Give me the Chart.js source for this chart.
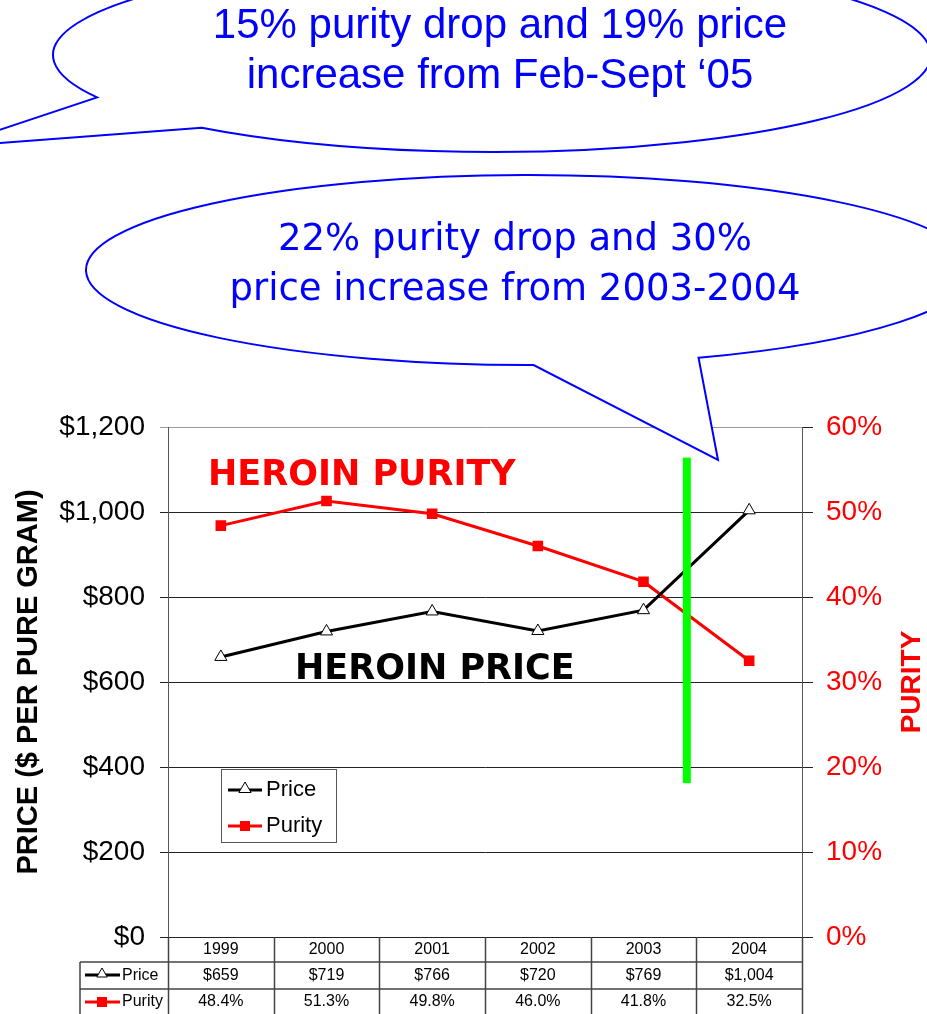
<!DOCTYPE html>
<html>
<head>
<meta charset="utf-8">
<script src="https://cdn.jsdelivr.net/npm/chart.js@4.4.1/dist/chart.umd.min.js"></script>
<style>
body { margin: 0; background: #fff; }
canvas { display: block; }
</style>
</head>
<body>
<canvas id="heroin" width="927" height="1014"></canvas>
<script>
// data
const years = ['1999', '2000', '2001', '2002', '2003', '2004'];
const price = [659, 719, 766, 720, 769, 1004];
const purity = [48.4, 51.3, 49.8, 46.0, 41.8, 32.5];
const priceLabels = ['$659', '$719', '$766', '$720', '$769', '$1,004'];
const purityLabels = ['48.4%', '51.3%', '49.8%', '46.0%', '41.8%', '32.5%'];
const priceMax = 1200, priceStep = 200;
const purityMax = 60, purityStep = 10;

const SANS = '"Liberation Sans", Arial, sans-serif';
const TAHOMA = '"DejaVu Sans", Verdana, sans-serif';

// speech bubble outline: ellipse with a gap (a1 -> a2, degrees) closed by a tail
function bubble(ctx, cx, cy, rx, ry, a1, a2, tip) {
  const r = Math.PI / 180;
  ctx.save();
  ctx.beginPath();
  ctx.ellipse(cx, cy, rx, ry, 0, a2 * r, (a1 + 360) * r, false);
  ctx.lineTo(tip[0], tip[1]);
  ctx.closePath();
  ctx.fillStyle = '#fff';
  ctx.fill();
  ctx.strokeStyle = '#0000ff';
  ctx.lineWidth = 2;
  ctx.stroke();
  ctx.restore();
}

function tri(ctx, x, y, r) {
  ctx.save();
  ctx.beginPath();
  ctx.moveTo(x, y - r);
  ctx.lineTo(x + r * 0.87, y + r * 0.5);
  ctx.lineTo(x - r * 0.87, y + r * 0.5);
  ctx.closePath();
  ctx.fillStyle = '#fff';
  ctx.fill();
  ctx.strokeStyle = '#000';
  ctx.lineWidth = 1;
  ctx.stroke();
  ctx.restore();
}

function key(ctx, x0, x1, y, color) {
  ctx.save();
  ctx.lineWidth = 3;
  ctx.strokeStyle = color;
  ctx.beginPath(); ctx.moveTo(x0, y); ctx.lineTo(x1, y); ctx.stroke();
  ctx.restore();
}

const overlay = {
  id: 'overlay',
  afterDraw(chart) {
    const ctx = chart.ctx;
    const xs = chart.scales.x, yp = chart.scales.y;
    const a = chart.chartArea;
    const band = xs.getPixelForValue(1) - xs.getPixelForValue(0);

    // green marker between 2003 and 2004
    const gx = xs.getPixelForValue(4) + 0.41 * band;
    ctx.save();
    ctx.fillStyle = '#00ff00';
    ctx.fillRect(gx - 4, yp.getPixelForValue(1128), 8, yp.getPixelForValue(362) - yp.getPixelForValue(1128));

    // series labels
    ctx.textBaseline = 'middle';
    ctx.textAlign = 'left';
    ctx.font = 'bold 35px ' + TAHOMA;
    ctx.fillStyle = '#ff0000';
    ctx.fillText('HEROIN PURITY', a.left + 40, 476);
    ctx.fillStyle = '#000';
    ctx.fillText('HEROIN PRICE', a.left + 127, 670);

    // right axis title
    ctx.save();
    ctx.translate(912, (a.top + a.bottom) / 2);
    ctx.rotate(-Math.PI / 2);
    ctx.textAlign = 'center';
    ctx.font = 'bold 28px ' + SANS;
    ctx.fillStyle = '#ff0000';
    ctx.fillText('PURITY', 0, 0);
    ctx.restore();

    // legend box
    const lx = a.left + 53, ly = 769;
    ctx.fillStyle = '#fff';
    ctx.fillRect(lx, ly, 115, 73);
    ctx.strokeStyle = '#555';
    ctx.lineWidth = 1;
    ctx.strokeRect(lx + 0.5, ly + 0.5, 115, 73);
    key(ctx, lx + 7, lx + 41, ly + 21, '#000');
    tri(ctx, lx + 24, ly + 20, 7);
    key(ctx, lx + 7, lx + 41, ly + 57, '#ff0000');
    ctx.fillStyle = '#ff0000';
    ctx.fillRect(lx + 19, ly + 52, 10, 10);
    ctx.fillStyle = '#000';
    ctx.font = '22px ' + SANS;
    ctx.fillText('Price', lx + 45, ly + 21);
    ctx.fillText('Purity', lx + 45, ly + 57);

    // data table under the plot
    const t0 = a.bottom, t1 = 962, t2 = 989, t3 = 1014, tl = 80;
    ctx.strokeStyle = '#444';
    ctx.lineWidth = 1.5;
    ctx.beginPath();
    ctx.moveTo(tl, t1); ctx.lineTo(a.right, t1);
    ctx.moveTo(tl, t2); ctx.lineTo(a.right, t2);
    ctx.moveTo(tl, t1); ctx.lineTo(tl, t3);
    for (let i = 0; i <= years.length; i++) {
      const x = Math.round(a.left + i * band) + 0.5;
      ctx.moveTo(x, t0); ctx.lineTo(x, t3);
    }
    ctx.stroke();
    ctx.font = '16px ' + SANS;
    ctx.textAlign = 'center';
    ctx.fillStyle = '#000';
    years.forEach((y, i) => {
      const x = xs.getPixelForValue(i);
      ctx.fillText(y, x, (t0 + t1) / 2);
      ctx.fillText(priceLabels[i], x, (t1 + t2) / 2);
      ctx.fillText(purityLabels[i], x, (t2 + t3) / 2);
    });
    ctx.textAlign = 'left';
    ctx.fillText('Price', tl + 42, (t1 + t2) / 2);
    ctx.fillText('Purity', tl + 42, (t2 + t3) / 2);
    key(ctx, tl + 5, tl + 40, 975, '#000');
    tri(ctx, tl + 22, 974, 6);
    key(ctx, tl + 5, tl + 40, 1002, '#ff0000');
    ctx.fillStyle = '#ff0000';
    ctx.fillRect(tl + 17, 997, 10, 10);

    // callouts
    bubble(ctx, 492, 55, 439, 97, 131.4, 154.1, [-52, 147]);
    bubble(ctx, 529, 270, 443, 95, 67.5, 89.4, [718, 460]);
    ctx.fillStyle = '#0000ff';
    ctx.textAlign = 'center';
    ctx.font = '42px ' + SANS;
    ctx.fillText('15% purity drop and 19% price', 500, 26);
    ctx.fillText('increase from Feb-Sept \u201805', 500, 76);
    ctx.font = '37px ' + TAHOMA;
    ctx.fillText('22% purity drop and 30%', 515, 240);
    ctx.fillText('price increase from 2003-2004', 515, 290);
    ctx.restore();
  }
};

new Chart(document.getElementById('heroin'), {
  type: 'line',
  data: {
    labels: years,
    datasets: [
      {
        label: 'Price',
        data: price,
        yAxisID: 'y',
        borderColor: '#000',
        borderWidth: 3,
        pointStyle: 'triangle',
        pointRadius: 7,
        pointBackgroundColor: '#fff',
        pointBorderColor: '#000',
        pointBorderWidth: 1,
        tension: 0
      },
      {
        label: 'Purity',
        data: purity,
        yAxisID: 'y2',
        borderColor: '#ff0000',
        borderWidth: 3,
        pointStyle: 'rect',
        pointRadius: 7.5,
        pointBackgroundColor: '#ff0000',
        pointBorderColor: '#ff0000',
        pointBorderWidth: 0,
        tension: 0
      }
    ]
  },
  options: {
    responsive: false,
    animation: false,
    devicePixelRatio: 1,
    layout: { padding: { top: 427, bottom: 77, left: 0, right: 0 } },
    plugins: { legend: { display: false }, tooltip: { enabled: false } },
    scales: {
      x: {
        display: false,
        offset: true,
        afterFit: s => { s.height = 0; }
      },
      y: {
        position: 'left',
        min: 0,
        max: priceMax,
        afterFit: s => { s.width = 168; },
        ticks: {
          stepSize: priceStep,
          padding: 15,
          color: '#000',
          font: { family: SANS, size: 28 },
          callback: v => '$' + v.toLocaleString('en-US')
        },
        grid: {
          color: c => c.tick && c.tick.value === priceMax ? '#9a9a9a' : '#222',
          tickLength: 8
        },
        border: { color: '#555' },
        title: {
          display: true,
          text: 'PRICE ($ PER PURE GRAM)',
          color: '#000',
          font: { family: SANS, size: 29, weight: 'bold' },
          padding: { top: 12, bottom: 0 }
        }
      },
      y2: {
        position: 'right',
        min: 0,
        max: purityMax,
        afterFit: s => { s.width = 125; },
        ticks: {
          stepSize: purityStep,
          padding: 13,
          color: '#ff0000',
          font: { family: SANS, size: 28 },
          callback: v => v + '%'
        },
        grid: { drawOnChartArea: false, color: '#222', tickLength: 11 },
        border: { color: '#555' }
      }
    }
  },
  plugins: [overlay]
});
</script>
</body>
</html>
